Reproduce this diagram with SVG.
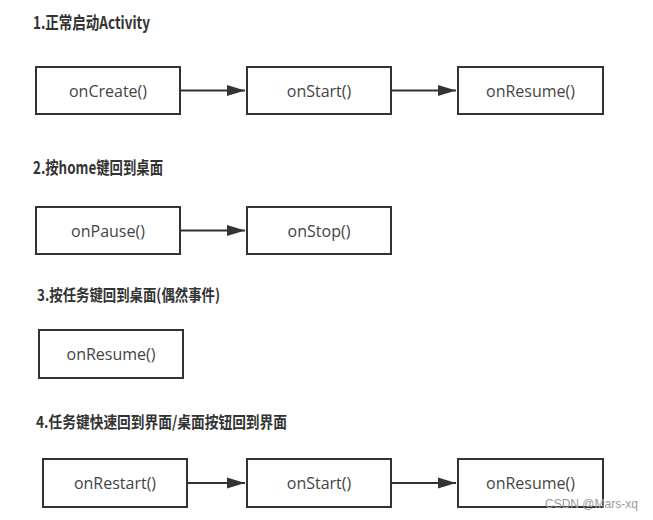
<svg xmlns="http://www.w3.org/2000/svg" width="653" height="520" viewBox="0 0 653 520">
<style>
.t{font-family:"Noto Sans CJK SC","Noto Sans",sans-serif;font-weight:bold;fill:#333;}
.box rect{fill:#fff;stroke:#333;stroke-width:2;}
.box text{font-family:"Open Sans","Noto Sans",sans-serif;font-size:16px;fill:#444;text-anchor:middle;dominant-baseline:central;}
.conn line{stroke:#333;stroke-width:2;}
.wm{font-family:"Liberation Sans",Arial,sans-serif;font-size:12px;fill:#999;}
</style>
<defs>
<marker id="arr" markerWidth="18" markerHeight="12" refX="18" refY="6" orient="auto" markerUnits="userSpaceOnUse" viewBox="0 0 18 12">
<path d="M0,0.5 L18,6 L0,11.5 Z" fill="#333"/>
</marker>
</defs>
<rect width="653" height="520" fill="#fff"/>
<text class="t" x="33" y="29" font-size="17" textLength="117" lengthAdjust="spacingAndGlyphs">1.正常启动Activity</text>
<text class="t" x="33" y="174" font-size="17" textLength="130" lengthAdjust="spacingAndGlyphs">2.按home键回到桌面</text>
<text class="t" x="37" y="301" font-size="16" textLength="183" lengthAdjust="spacingAndGlyphs">3.按任务键回到桌面(偶然事件)</text>
<text class="t" x="36" y="428" font-size="16" textLength="251" lengthAdjust="spacingAndGlyphs">4.任务键快速回到界面/桌面按钮回到界面</text>

<g id="n1" class="box"><rect x="36" y="67" width="144" height="47"/><text x="108" y="90.5">onCreate()</text></g>
<g id="n2" class="box"><rect x="247" y="67" width="144" height="47"/><text x="319" y="90.5">onStart()</text></g>
<g id="n3" class="box"><rect x="458" y="67" width="145" height="47"/><text x="530.5" y="90.5">onResume()</text></g>

<g id="n4" class="box"><rect x="36" y="207" width="144" height="47"/><text x="108" y="230.5">onPause()</text></g>
<g id="n5" class="box"><rect x="247" y="207" width="144" height="47"/><text x="319" y="230.5">onStop()</text></g>

<g id="n6" class="box"><rect x="39" y="330" width="144" height="48"/><text x="111" y="354">onResume()</text></g>

<g id="n7" class="box"><rect x="43" y="459" width="144" height="48"/><text x="115" y="483">onRestart()</text></g>
<g id="n8" class="box"><rect x="247" y="459" width="144" height="48"/><text x="319" y="483">onStart()</text></g>
<g id="n9" class="box"><rect x="458" y="459" width="145" height="48"/><text x="530.5" y="483">onResume()</text></g>

<g id="connectors" class="conn">
<line x1="181" y1="90.5" x2="245" y2="90.5" marker-end="url(#arr)"/>
<line x1="392" y1="90.5" x2="456" y2="90.5" marker-end="url(#arr)"/>
<line x1="181" y1="230.5" x2="245" y2="230.5" marker-end="url(#arr)"/>
<line x1="188" y1="483" x2="245" y2="483" marker-end="url(#arr)"/>
<line x1="392" y1="483" x2="456" y2="483" marker-end="url(#arr)"/>
</g>
<text class="wm" x="545" y="508">CSDN @Mars-xq</text>
</svg>
